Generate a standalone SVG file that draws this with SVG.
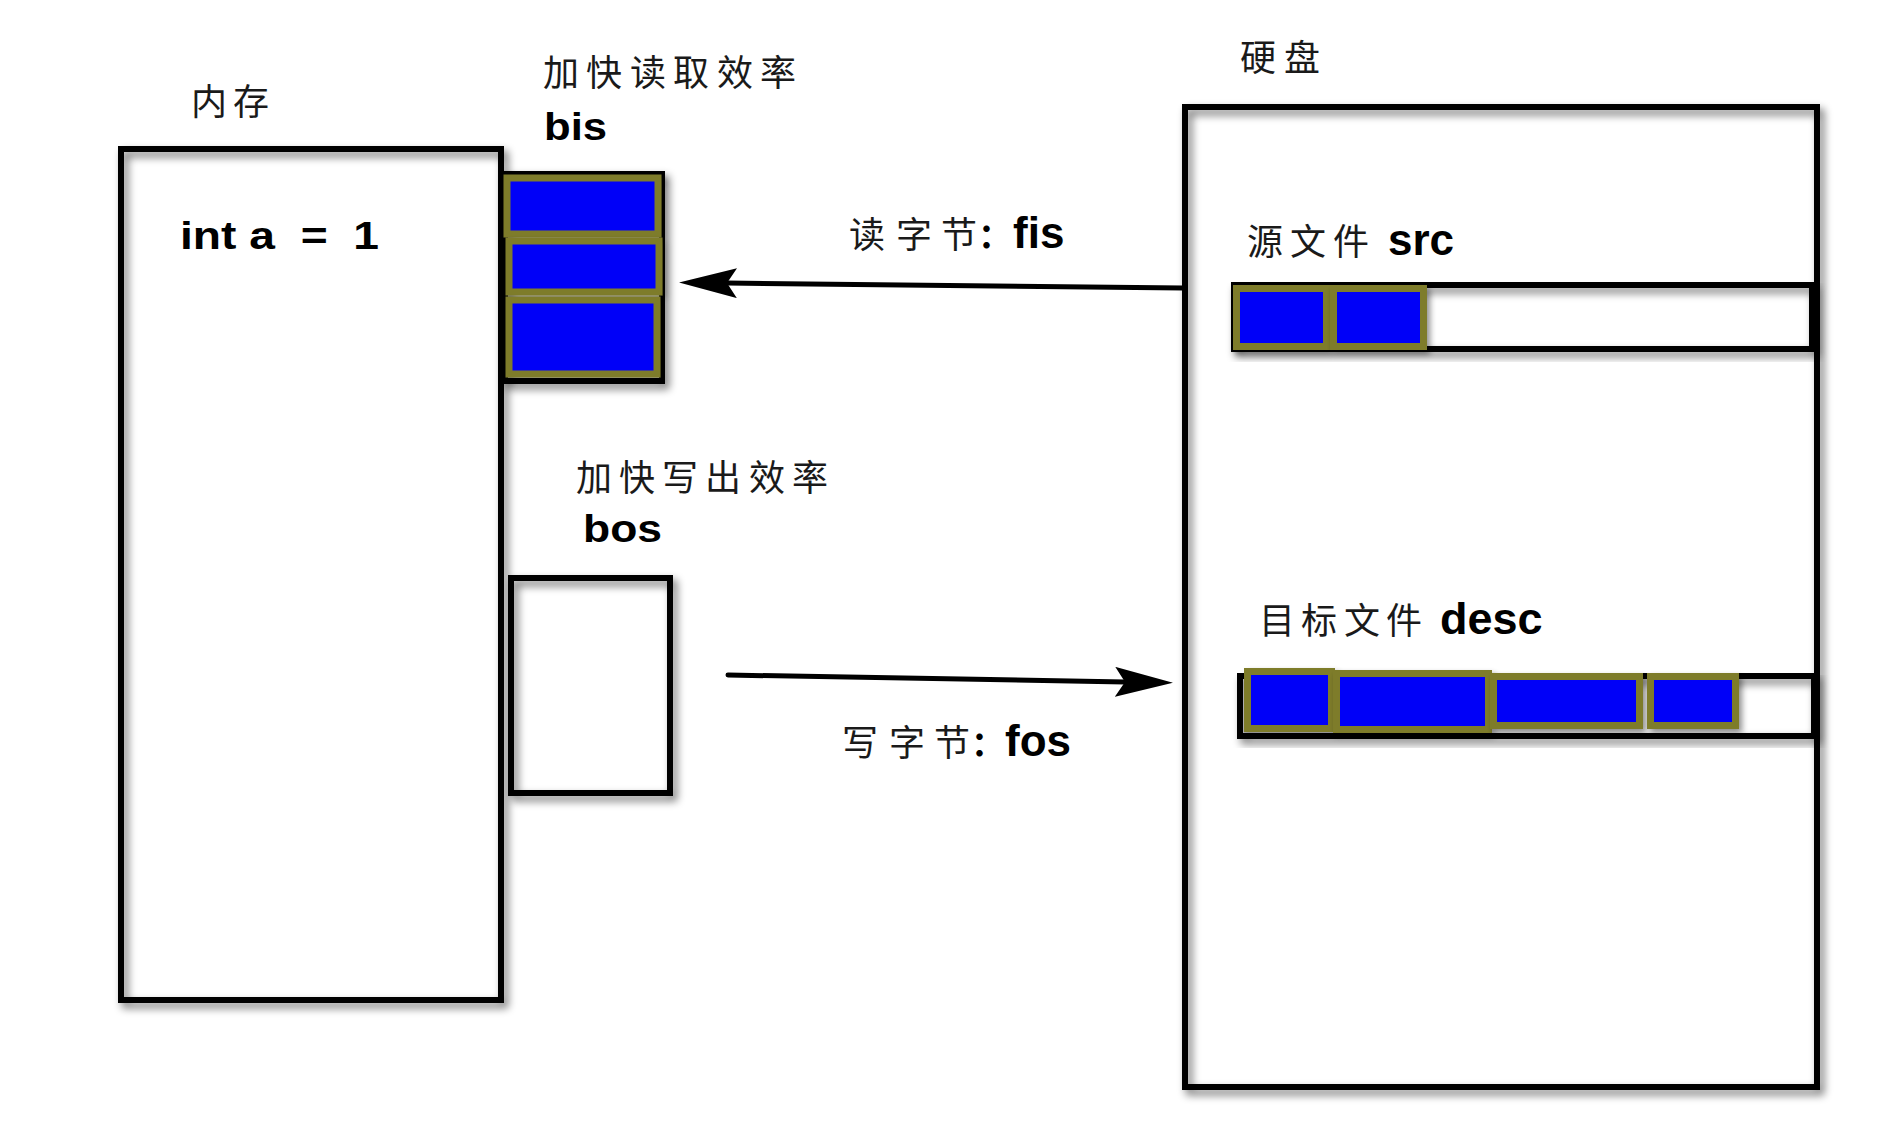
<svg xmlns="http://www.w3.org/2000/svg" width="1902" height="1138" viewBox="0 0 1902 1138">
<style>
.box{fill:none;stroke:#000;stroke-width:6;filter:url(#sh)}
.blk{fill:#0000f8;stroke:#7e7b2c;stroke-width:7;filter:url(#sh2)}
.cjk{font-family:"Noto Sans CJK SC","Noto Sans CJK TC",sans-serif;font-size:36px;fill:#1a1a1a}
.lat{font-family:"Liberation Sans",Arial,sans-serif;font-weight:bold;fill:#000}
.col{font-family:"Noto Sans CJK SC",sans-serif;font-size:34px;font-weight:bold;fill:#000}
.conn{stroke:#000;stroke-width:5;fill:none;stroke-linecap:round}
</style>
<defs>
<filter id="sh" x="-10%" y="-10%" width="130%" height="130%">
<feGaussianBlur in="SourceAlpha" stdDeviation="4"/>
<feOffset dx="4" dy="5" result="b"/>
<feComponentTransfer><feFuncA type="linear" slope="0.55"/></feComponentTransfer>
<feMerge><feMergeNode/><feMergeNode in="SourceGraphic"/></feMerge>
</filter>
<filter id="sh2" x="-20%" y="-20%" width="150%" height="150%">
<feGaussianBlur in="SourceAlpha" stdDeviation="3"/>
<feOffset dx="3" dy="4" result="b"/>
<feComponentTransfer><feFuncA type="linear" slope="0.45"/></feComponentTransfer>
<feMerge><feMergeNode/><feMergeNode in="SourceGraphic"/></feMerge>
</filter>
<marker id="arr" viewBox="0 0 58 30" refX="10" refY="15" markerWidth="58" markerHeight="30" markerUnits="userSpaceOnUse" orient="auto">
<path d="M0,0 L58,15 L0,30 L10,15 Z" fill="#000"/>
</marker>
</defs>
<rect width="1902" height="1138" fill="#fff"/>

<g id="memory">
<rect class="box" x="121" y="149" width="380" height="851"/>
<text class="cjk" x="191 233" y="115">内存</text>
<text class="lat" x="180" y="249" font-size="38" textLength="199" lengthAdjust="spacingAndGlyphs" style="white-space:pre" xml:space="preserve">int a  =  1</text>
</g>

<g id="bis">
<text class="cjk" x="543 586 630 673 717 760" y="86">加快读取效率</text>
<text class="lat" x="544" y="140" font-size="38" textLength="63" lengthAdjust="spacingAndGlyphs">bis</text>
<rect class="box" x="505" y="174" width="157" height="207" stroke-width="5"/>
<rect class="blk" x="507" y="178" width="151" height="56"/>
<rect class="blk" x="509" y="241" width="150" height="51"/>
<rect class="blk" x="509" y="300" width="148" height="74"/>
</g>

<g id="bos">
<text class="cjk" x="576 619 662 705 749 792" y="491">加快写出效率</text>
<text class="lat" x="583" y="542" font-size="38" textLength="79" lengthAdjust="spacingAndGlyphs">bos</text>
<rect class="box" x="511" y="578" width="159" height="215" stroke-width="5"/>
</g>

<g id="disk">
<rect class="box" x="1185" y="107" width="632" height="980"/>
<text class="cjk" x="1240 1284" y="71">硬盘</text>
</g>

<g id="src">
<text y="255"><tspan class="cjk" x="1247 1290 1333">源文件</tspan><tspan class="lat" x="1388" font-size="44">src</tspan></text>
<rect class="box" x="1234" y="285" width="578" height="64"/>
<rect class="blk" x="1236.5" y="288.5" width="90" height="58"/>
<rect class="blk" x="1333.5" y="288.5" width="90" height="58"/>
</g>

<g id="desc">
<text y="634"><tspan class="cjk" x="1259 1301 1344 1386">目标文件</tspan><tspan class="lat" x="1440" font-size="45">desc</tspan></text>
<rect class="box" x="1240" y="676" width="574" height="60"/>
<rect class="blk" x="1247.5" y="671.5" width="84" height="57"/>
<rect class="blk" x="1336.5" y="673.5" width="152" height="56"/>
<rect class="blk" x="1493.5" y="676.5" width="146" height="49"/>
<rect class="blk" x="1650.5" y="676.5" width="85" height="49"/>
</g>

<g id="connectors">
<line class="conn" x1="1183" y1="288" x2="727" y2="283" marker-end="url(#arr)"/>
<text y="248"><tspan class="cjk" x="849 896 941">读字节</tspan><tspan class="col" x="978">：</tspan><tspan class="lat" x="1013" font-size="44">fis</tspan></text>
<line class="conn" x1="728" y1="675" x2="1125" y2="682" marker-end="url(#arr)"/>
<text y="756"><tspan class="cjk" x="842 889 934">写字节</tspan><tspan class="col" x="971">：</tspan><tspan class="lat" x="1005" font-size="44">fos</tspan></text>
</g>
</svg>
